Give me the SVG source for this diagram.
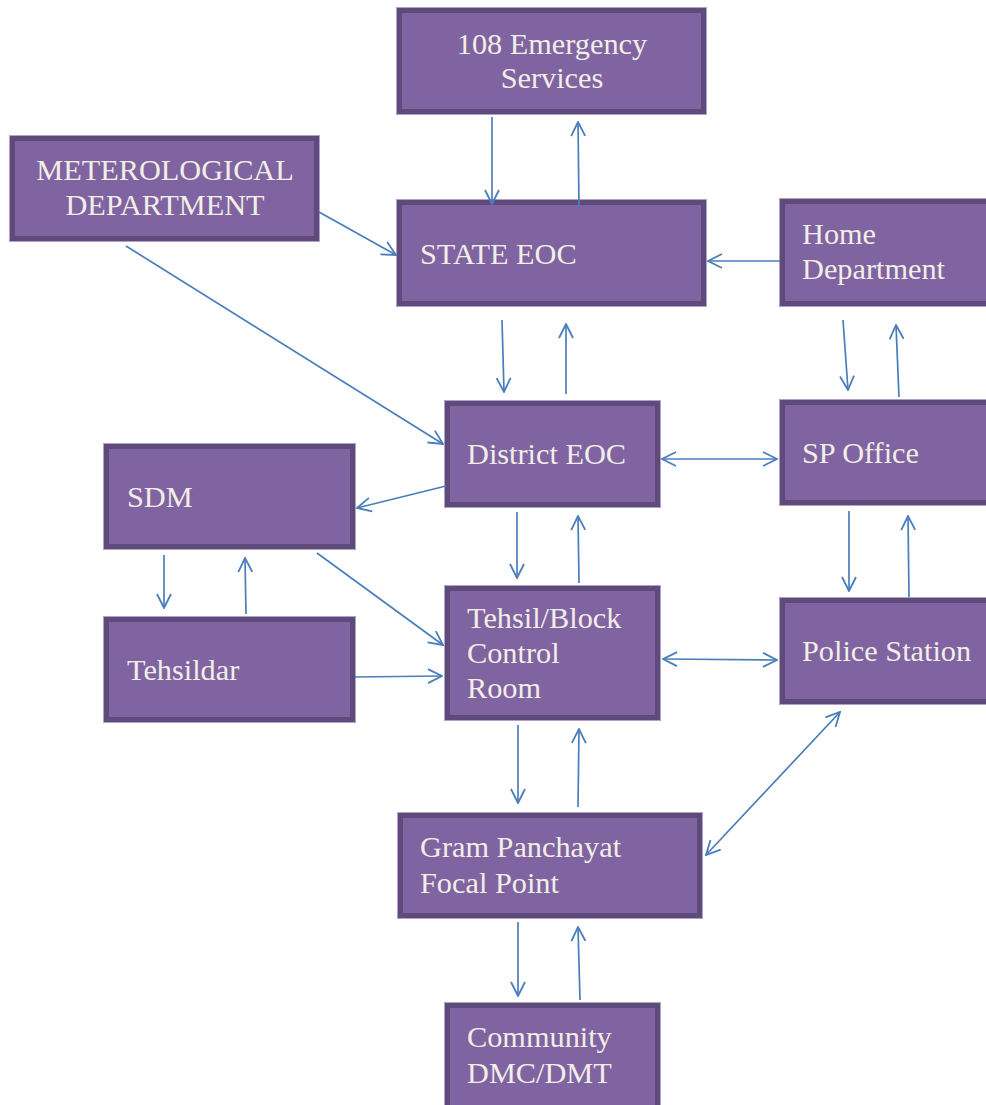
<svg xmlns="http://www.w3.org/2000/svg" width="986" height="1105" viewBox="0 0 986 1105">
<style>
.box{fill:#8064a2;stroke:#5f4a7c;stroke-width:5}
.edge{fill:none;stroke:#b3a2c7;stroke-width:1}
.t{font-family:"Liberation Serif","Times New Roman",serif;font-size:30.3px;fill:#f2eee6}
.c{text-anchor:middle}
.con line{stroke:#4a7ebb;stroke-width:1.7;fill:none}
</style>
<defs>
<marker id="ah" viewBox="0 0 16 16" refX="15" refY="8" markerWidth="16" markerHeight="16" markerUnits="userSpaceOnUse" orient="auto-start-reverse">
<path d="M1,1 L15,8 L1,15" fill="none" stroke="#4a7ebb" stroke-width="1.8"/>
</marker>
</defs>
<rect width="986" height="1105" fill="#ffffff"/>

<g id="n108"><rect class="edge" x="396.5" y="7.5" width="310" height="107"/><rect class="box" x="399.5" y="10.5" width="304" height="101"/><text class="t c" x="552" y="54">108 Emergency</text><text class="t c" x="552" y="88">Services</text></g>
<g id="nstate"><rect class="edge" x="396.5" y="199.5" width="310" height="107"/><rect class="box" x="399.5" y="202.5" width="304" height="101"/><text class="t" x="420" y="264">STATE EOC</text></g>
<g id="nmet"><rect class="edge" x="9.5" y="135.5" width="310" height="106"/><rect class="box" x="12.5" y="138.5" width="304" height="100"/><text class="t c" x="165" y="180">METEROLOGICAL</text><text class="t c" x="165" y="215">DEPARTMENT</text></g>
<g id="nhome"><rect class="edge" x="779.5" y="198.5" width="220" height="108"/><rect class="box" x="782.5" y="201.5" width="214" height="102"/><text class="t" x="802" y="244">Home</text><text class="t" x="802" y="279">Department</text></g>
<g id="ndistrict"><rect class="edge" x="444.5" y="400.5" width="216" height="107"/><rect class="box" x="447.5" y="403.5" width="210" height="101"/><text class="t" x="467" y="464">District EOC</text></g>
<g id="nsp"><rect class="edge" x="779.5" y="399.5" width="220" height="106"/><rect class="box" x="782.5" y="402.5" width="214" height="100"/><text class="t" x="802" y="463">SP Office</text></g>
<g id="nsdm"><rect class="edge" x="103.5" y="443.5" width="252" height="106"/><rect class="box" x="106.5" y="446.5" width="246" height="100"/><text class="t" x="127" y="507">SDM</text></g>
<g id="ntehsildar"><rect class="edge" x="103.5" y="616.5" width="252" height="106"/><rect class="box" x="106.5" y="619.5" width="246" height="100"/><text class="t" x="127" y="680">Tehsildar</text></g>
<g id="ntehsil"><rect class="edge" x="444.5" y="585.5" width="216" height="135"/><rect class="box" x="447.5" y="588.5" width="210" height="129"/><text class="t" x="467" y="628">Tehsil/Block</text><text class="t" x="467" y="663">Control</text><text class="t" x="467" y="698">Room</text></g>
<g id="npolice"><rect class="edge" x="779.5" y="597.5" width="220" height="107"/><rect class="box" x="782.5" y="600.5" width="214" height="101"/><text class="t" x="802" y="661">Police Station</text></g>
<g id="ngram"><rect class="edge" x="397.5" y="812.5" width="305" height="106"/><rect class="box" x="400.5" y="815.5" width="299" height="100"/><text class="t" x="420" y="857">Gram Panchayat</text><text class="t" x="420" y="893">Focal Point</text></g>
<g id="ncommunity"><rect class="edge" x="444.5" y="1002.5" width="216" height="115"/><rect class="box" x="447.5" y="1005.5" width="210" height="109"/><text class="t" x="467" y="1047">Community</text><text class="t" x="467" y="1083">DMC/DMT</text></g>

<g id="connectors" class="con">
<line x1="492" y1="117" x2="492" y2="204" marker-end="url(#ah)"/>
<line x1="579" y1="207" x2="578" y2="122" marker-end="url(#ah)"/>
<line x1="319" y1="212" x2="396" y2="255" marker-end="url(#ah)"/>
<line x1="126" y1="246" x2="443" y2="444" marker-end="url(#ah)"/>
<line x1="780" y1="261" x2="708" y2="261" marker-end="url(#ah)"/>
<line x1="843" y1="320" x2="848" y2="390" marker-end="url(#ah)"/>
<line x1="899" y1="397" x2="896" y2="325" marker-end="url(#ah)"/>
<line x1="502" y1="320" x2="504" y2="392" marker-end="url(#ah)"/>
<line x1="566" y1="394" x2="566" y2="324" marker-end="url(#ah)"/>
<line x1="662" y1="459" x2="777" y2="459" marker-start="url(#ah)" marker-end="url(#ah)"/>
<line x1="849" y1="511" x2="849" y2="591" marker-end="url(#ah)"/>
<line x1="909" y1="597" x2="908" y2="516" marker-end="url(#ah)"/>
<line x1="446" y1="486" x2="357" y2="508" marker-end="url(#ah)"/>
<line x1="517" y1="512" x2="517" y2="578" marker-end="url(#ah)"/>
<line x1="579" y1="583" x2="578" y2="516" marker-end="url(#ah)"/>
<line x1="164" y1="555" x2="164" y2="608" marker-end="url(#ah)"/>
<line x1="246" y1="614" x2="245" y2="558" marker-end="url(#ah)"/>
<line x1="317" y1="553" x2="443" y2="645" marker-end="url(#ah)"/>
<line x1="355" y1="677" x2="442" y2="676" marker-end="url(#ah)"/>
<line x1="663" y1="659" x2="777" y2="660" marker-start="url(#ah)" marker-end="url(#ah)"/>
<line x1="518" y1="725" x2="518" y2="803" marker-end="url(#ah)"/>
<line x1="578" y1="807" x2="579" y2="729" marker-end="url(#ah)"/>
<line x1="706" y1="855" x2="840" y2="712" marker-start="url(#ah)" marker-end="url(#ah)"/>
<line x1="518" y1="922" x2="518" y2="996" marker-end="url(#ah)"/>
<line x1="580" y1="1000" x2="578" y2="927" marker-end="url(#ah)"/>
</g>
</svg>
